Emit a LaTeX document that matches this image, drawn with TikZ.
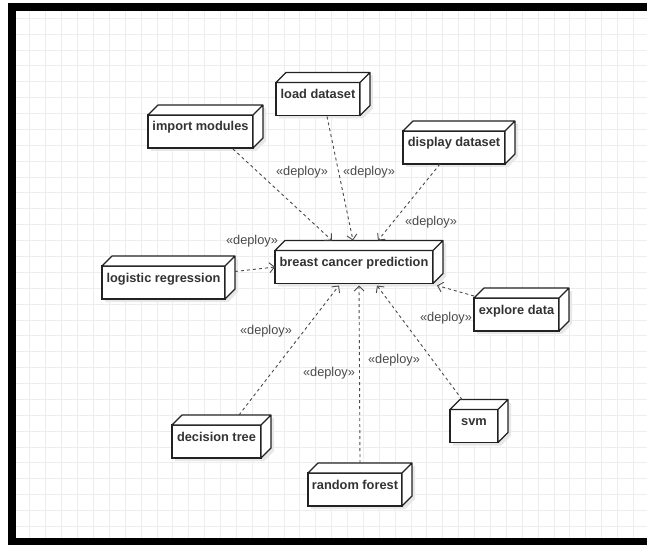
\documentclass[tikz,border=0pt]{standalone}
\usepackage{fontspec}
\setmainfont{Liberation Sans}
\usetikzlibrary{arrows.meta, backgrounds}
\definecolor{gridgray}{HTML}{EDEDED}
\definecolor{boxline}{HTML}{222222}
\definecolor{deptext}{HTML}{4A4A4A}

\begin{document}
\begin{tikzpicture}[x=1pt, y=-1pt,
  cube/.style={draw=boxline, line width=1.2pt, fill=white, outer sep=0pt,
    minimum height=33pt, inner xsep=2pt, inner ysep=5pt, text height=11pt, text depth=12pt,
    font=\fontsize{12.8}{15}\selectfont\bfseries, text=black!80},
  face/.style={draw=boxline, line width=1.2pt, fill=white, line join=round},
  dep/.style={draw=deptext, line width=0.9pt, dash pattern=on 3pt off 3pt,
    -{Straight Barb[length=5pt, width=10pt, line width=0.9pt]}},
  lbl/.style={text=deptext, font=\fontsize{12.8}{15}\selectfont, inner sep=0pt}]
  \useasboundingbox (0,0) rectangle (647,545);

  \node[cube, minimum width=105pt] (imp) at (200.5,131.5) {import modules};
  \node[cube, minimum width=84pt] (load) at (318,99) {load dataset};
  \node[cube, minimum width=102pt] (disp) at (454,147.5) {display dataset};
  \node[cube, minimum width=158pt] (bcp) at (354,267) {breast cancer prediction};
  \node[cube, minimum width=123pt] (logr) at (163.5,282.5) {logistic regression};
  \node[cube, minimum width=85pt] (expl) at (516.5,314.5) {explore data};
  \node[cube, minimum width=48pt] (svm) at (474,426) {svm};
  \node[cube, minimum width=89pt] (dtree) at (216.5,441.5) {decision tree};
  \node[cube, minimum width=94pt] (rf) at (355,489.5) {random forest};

  % top and side faces
  \foreach \n in {imp,load,disp,bcp,logr,expl,svm,dtree,rf}
    \draw[face] (\n.north west) -- ([shift={(10,-10)}]\n.north west) -- ([shift={(10,-10)}]\n.north east)
      -- ([shift={(10,-10)}]\n.south east) -- (\n.south east) -- (\n.north east) -- cycle
      (\n.north east) -- ([shift={(10,-10)}]\n.north east);

  \begin{scope}[on background layer]
    \fill[white] (0,0) rectangle (647,545);
    \foreach \i in {0,...,39}
      \draw[gridgray, line width=1pt] ({14.1+15.88*\i},11) -- ({14.1+15.88*\i},538);
    \foreach \j in {1,...,33}
      \draw[gridgray, line width=1pt] (16,{2.4+15.88*\j}) -- (647,{2.4+15.88*\j});
    \foreach \n in {imp,load,disp,bcp,logr,expl,svm,dtree,rf}
      \fill[black!9] ([shift={(3,3)}]\n.north west) -- ([shift={(13,-7)}]\n.north west) -- ([shift={(13,-7)}]\n.north east)
        -- ([shift={(13,-7)}]\n.south east) -- ([shift={(3,3)}]\n.south east) -- ([shift={(3,3)}]\n.south west) -- cycle;
  \end{scope}

  \draw[dep] ([shift={(32.5,1)}]imp.south) -- ([shift={(-22,-10)}]bcp.north);
  \draw[dep] ([shift={(9,1)}]load.south) -- ([shift={(-1,-10)}]bcp.north);
  \draw[dep] ([shift={(-14,0)}]disp.south) -- ([shift={(24,-10)}]bcp.north);
  \draw[dep] ([shift={(10,-11)}]logr.east) -- (bcp.west);
  \draw[dep] ([shift={(0,-2)}]expl.north west) -- ([shift={(4,2)}]bcp.south east);
  \draw[dep] ([shift={(22.5,-10)}]dtree.north) -- ([shift={(-15,2)}]bcp.south);
  \draw[dep] ([shift={(5,-10)}]rf.north) -- ([shift={(5,2)}]bcp.south);
  \draw[dep] ([shift={(-12,-10)}]svm.north) -- ([shift={(23,2)}]bcp.south);

  \node[lbl] (dimp) at (302,172) {«deploy»};
  \node[lbl] (dload) at (369,172) {«deploy»};
  \node[lbl] (ddisp) at (431,222) {«deploy»};
  \node[lbl] (dlogr) at (252,241) {«deploy»};
  \node[lbl] (dexpl) at (446,318) {«deploy»};
  \node[lbl] (ddtree) at (266,331) {«deploy»};
  \node[lbl] (drf) at (329,373) {«deploy»};
  \node[lbl] (dsvm) at (394,360) {«deploy»};

  % frame
  \fill[black] (8,3) rectangle (647,11);
  \fill[black] (8,3) rectangle (16,545);
  \fill[black] (8,538) rectangle (647,545);
\end{tikzpicture}
\end{document}
